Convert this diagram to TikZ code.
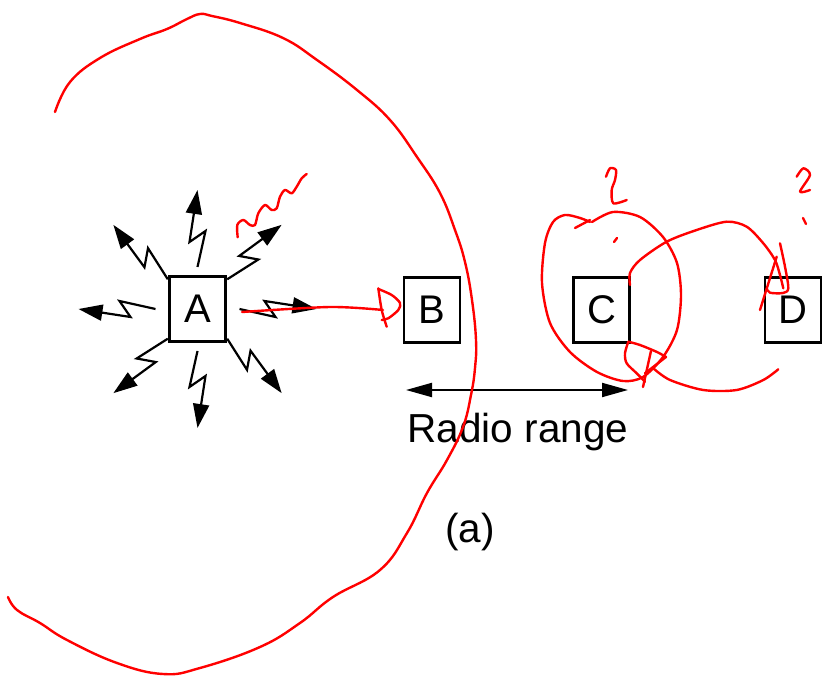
\documentclass[tikz,border=0pt]{standalone}
\usepackage{fontspec}
\setmainfont{Liberation Sans}
\usetikzlibrary{arrows.meta}
\begin{document}
\begin{tikzpicture}[x=1pt,y=-1pt,
  station/.style={draw, line width=2.2pt, minimum width=56pt, minimum height=65pt, inner sep=0pt, font=\fontsize{40}{41}\selectfont},
  bolt/.style={line width=2.2pt, -{Triangle[length=24pt,width=16pt]}, line join=miter},
  rangearrow/.style={line width=2pt, {Triangle[length=26pt,width=14pt]}-{Triangle[length=26pt,width=14pt]}},
  ink/.style={red, line width=2.4pt, line cap=round, line join=round},
  lbl/.style={font=\fontsize{40.5}{41}\selectfont, inner sep=0pt}]
\useasboundingbox (0,0) rectangle (823,676);

% stations
\node[station] (A) at (197.5,309) {A};
\node[station] (B) at (432,310) {B};
\node[station] (C) at (601.5,310) {C};
\node[station] (D) at (793,310) {D};

% lightning arrows around A
\foreach \ang in {0,45,...,315}{
  \begin{scope}[shift={(A.center)}, rotate=\ang]
    \draw[bolt] (42,0) -- (78,8) -- (67,-8) -- (119,0);
  \end{scope}
}

% radio range
\coordinate (r1) at (406,390);
\coordinate (r2) at (628,390);
\draw[rangearrow] (r1) -- (r2);
\node[lbl, anchor=base] (rr) at (518,443) {Radio range};
\node[lbl, anchor=base] (cap) at (470,543) {(a)};

% red annotations
\draw[ink] plot[smooth, tension=0.7] coordinates {(55,112) (70,82) (100,58) (140,39) (167,29) (187,19) (200,14) (212,16) (240,23) (283,38) (317,60) (357,90) (390,120) (417,157) (440,193) (455,230) (465,262) (472,300) (476,340) (475,368) (471,395) (463,427) (447,460) (427,493) (407,533) (380,570) (333,597) (300,623) (260,647) (200,668) (163,674) (117,663) (67,640) (40,623) (17,610) (8,597)};

\draw[ink] plot[smooth] coordinates {(237.7,237.3) (237.3,225) (243.3,220) (250,225) (255,225) (258.3,213.3) (265,205) (271.7,210) (276.7,208.3) (280,196.7) (285,190) (291.7,193.3) (296.7,186.7) (301.7,178.3) (306.7,174)};

\draw[ink] plot[smooth] coordinates {(242,312) (330,307) (383,310)};
\draw[ink] plot[smooth] coordinates {(378.3,288.3) (381.7,310) (386.7,326.7)};
\draw[ink] plot[smooth] coordinates {(378.3,289) (391.7,295) (400,303) (398.3,310) (388.3,318.3) (381.7,320)};

% loop around C
\draw[ink] plot[smooth] coordinates {(592,222) (613,212) (640,217) (663,237) (677,263) (681,295) (677,330) (663,357) (643,377) (623,381) (597,372) (570,352) (550,323) (542,283) (545,243) (553,222) (565,215) (580,218) (590,222)};
\draw[ink] (575,228) -- (590,220);
\draw[ink] plot[smooth] coordinates {(606,176.7) (610,168.3) (616,170) (615,180) (611.7,190) (613.3,203.3) (626.7,200)};
\draw[ink] (614,242) -- (617,238);

% C to D
\draw[ink] plot[smooth] coordinates {(630,285) (630,273) (640,260) (666.7,241.7) (696.7,230) (726.7,221.7) (746.7,226.7) (763.3,243.3) (775,260) (780,275) (783.3,288.3)};
\draw[ink] (776.7,256.7) -- (760,310);
\draw[ink] plot[smooth] coordinates {(780,243.3) (785,266.7) (788.3,288.3) (783,293) (770,292.7) (766.7,288.3)};
\draw[ink] plot[smooth] coordinates {(796.7,176.7) (803.3,168.3) (810,175) (800,191.7) (810,190)};
\draw[ink] (803,218) -- (806,224);

% lower marks
\draw[ink] plot[smooth] coordinates {(628.3,341.7) (640,345) (657,352) (666,357)} -- (645,373.3);
\draw[ink] plot[smooth] coordinates {(628.3,341.7) (625,353.3) (626.7,363.3) (636.7,373.3) (645,381.7)};
\draw[ink] (651,351) -- (643,387);
\draw[ink] plot[smooth] coordinates {(653.3,368.3) (670,380) (703.3,390) (736.7,390) (763.3,380) (778.3,369.3)};
\end{tikzpicture}
\end{document}
